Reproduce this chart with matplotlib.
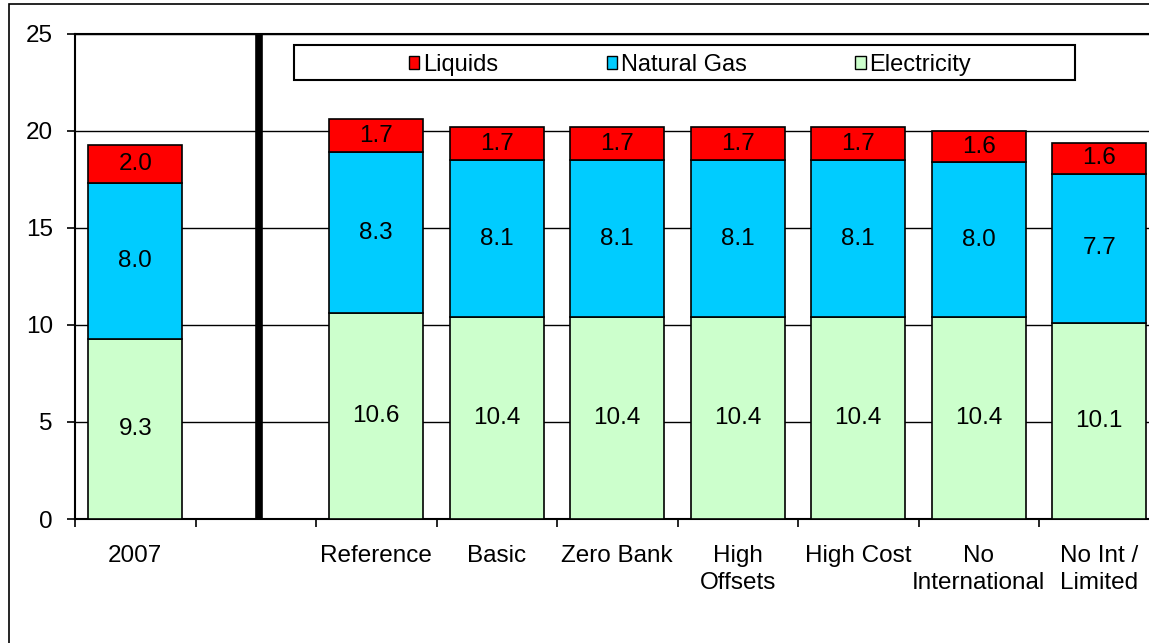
import numpy as np
import matplotlib.pyplot as plt
from matplotlib.patches import Rectangle, Patch

plt.rcParams['font.family'] = ['Liberation Sans', 'DejaVu Sans']

# Data (blank slot after 2007 holds the divider line)
categories = ['2007', '', 'Reference', 'Basic', 'Zero Bank', 'High\nOffsets',
              'High Cost', 'No\nInternational', 'No Int /\nLimited']
electricity = [9.3, np.nan, 10.6, 10.4, 10.4, 10.4, 10.4, 10.4, 10.1]
natural_gas = [8.0, np.nan, 8.3, 8.1, 8.1, 8.1, 8.1, 8.0, 7.7]
liquids = [2.0, np.nan, 1.7, 1.7, 1.7, 1.7, 1.7, 1.6, 1.6]

series = [('Electricity', electricity, '#CCFFCC'),
          ('Natural Gas', natural_gas, '#00CCFF'),
          ('Liquids', liquids, '#FF0000')]

FS = 17.5
W, H = 1149, 643
fig = plt.figure(figsize=(W / 100, H / 100), dpi=100)

# outer chart frame
fig.patches.append(Rectangle((9 / W, -0.05), 1.2, 1 - 4 / H + 0.05,
                             transform=fig.transFigure, fill=False,
                             edgecolor='black', lw=1.2))

ax = fig.add_axes([75 / W, 1 - 519 / H, 1084.5 / W, 485 / H])
x = np.arange(len(categories))

bottom = np.zeros(len(categories))
for name, vals, color in series:
    v = np.array(vals, dtype=float)
    ax.bar(x, np.nan_to_num(v), 0.78, bottom=bottom, color=color,
           edgecolor='black', lw=1.2, zorder=3)
    for xi, vi, bi in zip(x, v, bottom):
        if not np.isnan(vi):
            ax.text(xi, bi + vi / 2, f'{vi:.1f}', ha='center', va='center',
                    fontsize=FS, zorder=4)
    bottom += np.nan_to_num(v)

# divider between history and scenarios
ax.axvline(1.03, color='black', lw=5.5, zorder=4)

ax.set_xlim(-0.5, len(categories) - 0.5)
ax.set_ylim(0, 25)
ax.set_yticks(np.arange(0, 26, 5))
ax.yaxis.grid(True, color='black', lw=1, zorder=0)
ax.set_axisbelow(True)

ax.set_xticks(np.arange(-0.5, len(categories), 1))
ax.set_xticklabels([])
ax.set_xticks(x, minor=True)
ax.set_xticklabels(categories, minor=True, fontsize=FS, linespacing=1.3)
ax.tick_params(axis='x', which='minor', length=0, pad=19)
ax.tick_params(axis='x', which='major', direction='out', length=6, width=1.2)
ax.tick_params(axis='y', direction='out', length=6, width=1.2, labelsize=FS, pad=10)

ax.spines['right'].set_visible(False)
for s in ['left', 'bottom', 'top']:
    ax.spines[s].set_linewidth(1.5)

# legend box
fig.patches.append(Rectangle((294 / W, 1 - 80 / H), 781 / W, 35 / H,
                             transform=fig.transFigure, facecolor='white',
                             edgecolor='black', lw=1.5, zorder=5))
handles = [Patch(facecolor=c, edgecolor='black', lw=1) for _, _, c in series[::-1]]
labels = [n for n, _, _ in series[::-1]]
leg = fig.legend(handles, labels, loc='center', ncol=3,
                 bbox_to_anchor=(690 / W, 1 - 65 / H), frameon=False,
                 fontsize=FS - 0.5, handlelength=0.45, handleheight=0.45,
                 handletextpad=0.15, columnspacing=4.6)
leg.set_zorder(6)

fig.savefig('out.png', dpi=100)
